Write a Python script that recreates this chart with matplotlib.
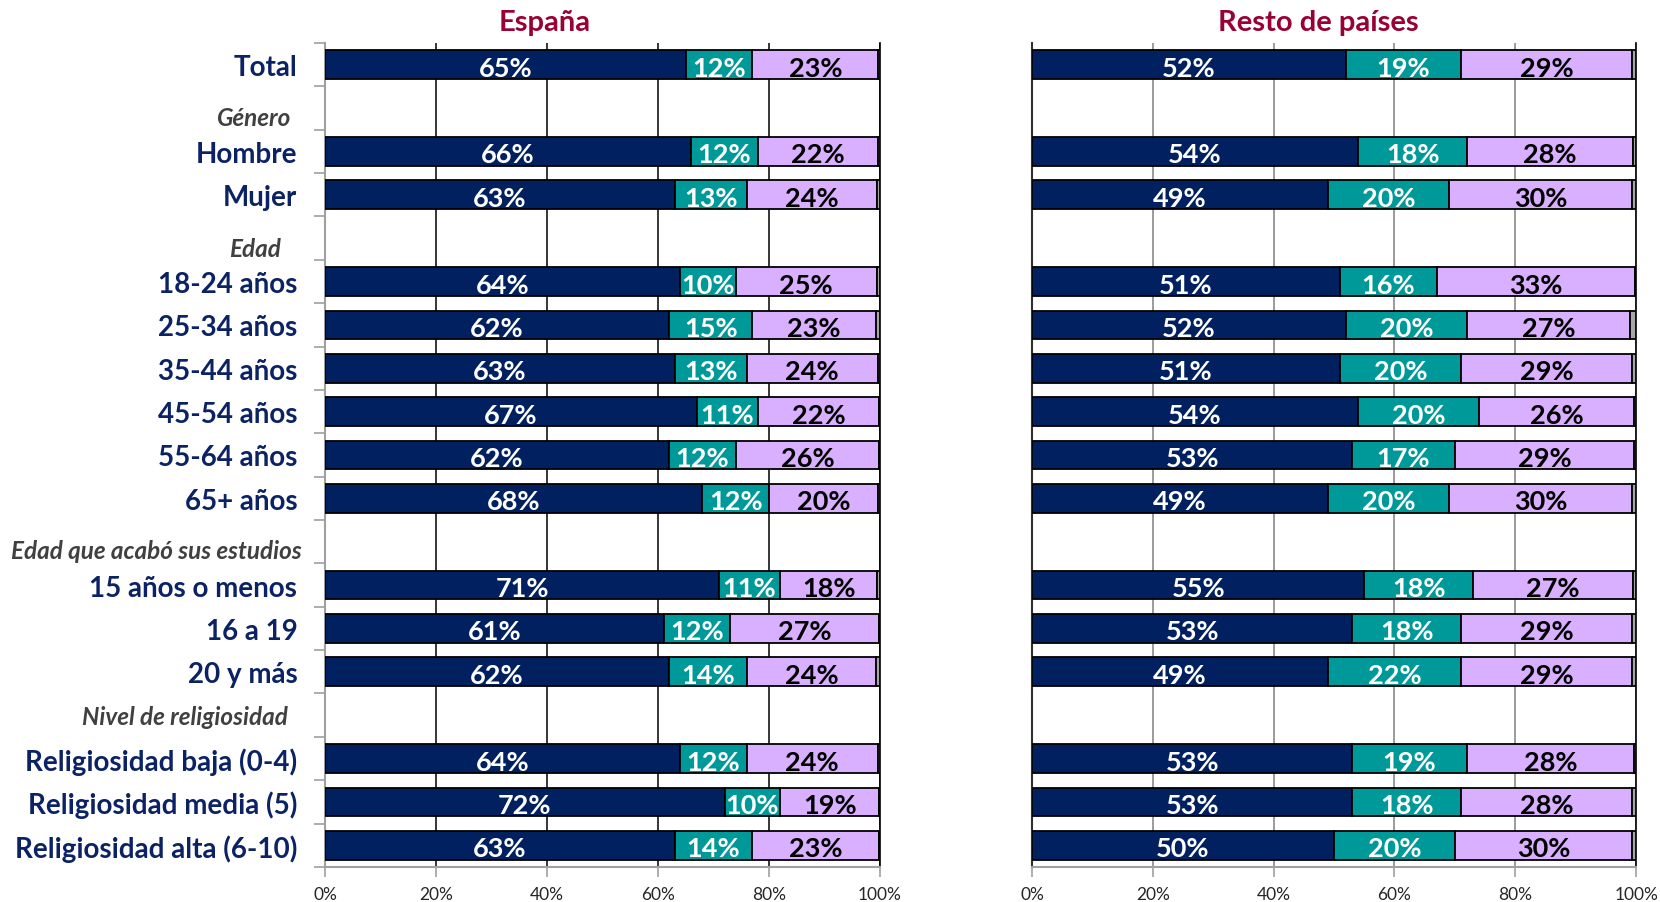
import numpy as np
import matplotlib.pyplot as plt
from matplotlib.transforms import blended_transform_factory

plt.rcParams['font.family'] = ['Lato', 'DejaVu Sans']

# groups of rows (header, categories)
headers = ['', 'Género', 'Edad', 'Edad que acabó sus estudios', 'Nivel de religiosidad']
group_rows = [
    ['Total'],
    ['Hombre', 'Mujer'],
    ['18-24 años', '25-34 años', '35-44 años', '45-54 años', '55-64 años', '65+ años'],
    ['15 años o menos', '16 a 19', '20 y más'],
    ['Religiosidad baja (0-4)', 'Religiosidad media (5)', 'Religiosidad alta (6-10)'],
]

# España
es_navy = [65, 66, 63, 64, 62, 63, 67, 62, 68, 71, 61, 62, 64, 72, 63]
es_teal = [12, 12, 13, 10, 15, 13, 11, 12, 12, 11, 12, 14, 12, 10, 14]
es_lav = [23, 22, 24, 25, 23, 24, 22, 26, 20, 18, 27, 24, 24, 19, 23]
es_ns = [0.3, 0.3, 0.5, 0.6, 0.8, 0.4, 0.1, 0.1, 0.4, 0.5, 0.1, 0.7, 0.4, 0.1, 0.2]

# Resto de países
rp_navy = [52, 54, 49, 51, 52, 51, 54, 53, 49, 55, 53, 49, 53, 53, 50]
rp_teal = [19, 18, 20, 16, 20, 20, 20, 17, 20, 18, 18, 22, 19, 18, 20]
rp_lav = [29, 28, 30, 33, 27, 29, 26, 29, 30, 27, 29, 29, 28, 28, 30]
rp_ns = [0.6, 0.5, 0.6, 0.2, 1.0, 0.7, 0.3, 0.3, 0.7, 0.5, 0.7, 0.7, 0.3, 0.7, 0.7]

C_NAVY = '#002060'
C_TEAL = '#009999'
C_LAV = '#D9B0FF'
C_GRAY = '#A6A6A6'
C_LABEL = '#0B2265'
C_TITLE = '#990033'

# slot positions
row_pos, row_lab, head_pos, head_lab = [], [], [], []
slot = 0
for h, rows in zip(headers, group_rows):
    if h:
        head_pos.append(slot)
        head_lab.append(h)
        slot += 1
    for r in rows:
        row_pos.append(slot)
        row_lab.append(r)
        slot += 1
n_slots = slot

fig = plt.figure(figsize=(16.6, 9.03), dpi=100)
ax1 = fig.add_axes([0.1958, 0.0388, 0.3343, 0.9125])
ax2 = fig.add_axes([0.6217, 0.0388, 0.3639, 0.9125])


def draw(ax, navy, teal, lav, ns, grid_color, left_color):
    y = np.array(row_pos)
    navy = np.array(navy, float)
    teal = np.array(teal, float)
    ns = np.array(ns, float)
    end3 = 100 - ns
    kw = dict(height=0.66, edgecolor='black', linewidth=1.3, zorder=3)
    ax.barh(y, navy, color=C_NAVY, **kw)
    ax.barh(y, teal, left=navy, color=C_TEAL, **kw)
    ax.barh(y, end3 - navy - teal, left=navy + teal, color=C_LAV, **kw)
    ax.barh(y, ns, left=end3, color=C_GRAY, **kw)
    for yi, a, b, c, e in zip(y, navy, teal, lav, end3):
        tk = dict(ha='center', va='center', fontsize=19.5, fontweight='bold', zorder=4)
        ax.text(a / 2, yi + 0.07, f'{a:.0f}%', color='white', **tk)
        ax.text(a + b / 2, yi + 0.07, f'{b:.0f}%', color='white', **tk)
        ax.text((a + b + e) / 2, yi + 0.07, f'{c}%', color='black', **tk)

    ax.set_xlim(0, 100)
    ax.set_ylim(n_slots - 0.5, -0.5)
    ax.set_xticks([0, 20, 40, 60, 80, 100])
    ax.set_xticklabels([f'{v}%' for v in range(0, 101, 20)])
    ax.xaxis.grid(True, color=grid_color, linewidth=1.1, zorder=0)
    ax.set_axisbelow(True)
    ax.tick_params(axis='x', direction='out', length=7, width=1.2, color='#A0A0A0',
                   labelsize=12.5, labelcolor='#262626', pad=7)
    ax.spines['top'].set_visible(False)
    ax.spines['right'].set_color('black')
    ax.spines['right'].set_linewidth(1.2)
    ax.spines['bottom'].set_color('#A0A0A0')
    ax.spines['bottom'].set_linewidth(1.5)
    ax.spines['left'].set_color(left_color)
    ax.spines['left'].set_linewidth(1.5)


draw(ax1, es_navy, es_teal, es_lav, es_ns, 'black', '#A0A0A0')
draw(ax2, rp_navy, rp_teal, rp_lav, rp_ns, '#808080', '#303030')

# left panel category labels
ax1.set_yticks(row_pos)
ax1.set_yticklabels(row_lab, fontsize=20, fontweight='bold', color=C_LABEL)
ax1.set_yticks(np.arange(-0.5, n_slots, 1.0), minor=True)
ax1.tick_params(axis='y', which='major', length=0, pad=20)
ax1.tick_params(axis='y', which='minor', length=8, width=1.2, color='#A0A0A0')
ax2.set_yticks([])

# group headers
trans = blended_transform_factory(ax1.transAxes, ax1.transData)
head_off = [(-35, -9.6), (-44.5, -10.6), (-23, -8.6), (-37, -1.2)]
for p, h, (dx, dy) in zip(head_pos, head_lab, head_off):
    ax1.annotate(h, xy=(0, p), xycoords=trans, xytext=(dx, dy), textcoords='offset pixels',
                 ha='right', va='center', fontsize=17.5, fontstyle='italic',
                 fontweight='bold', color='#404040')

fig.text(545 / 1660, 1 - 23 / 903, 'España', ha='center', va='center',
         fontsize=21, fontweight='bold', color=C_TITLE)
fig.text(1318 / 1660, 1 - 23 / 903, 'Resto de países', ha='center', va='center',
         fontsize=21, fontweight='bold', color=C_TITLE)

fig.savefig('out.png', dpi=100)
